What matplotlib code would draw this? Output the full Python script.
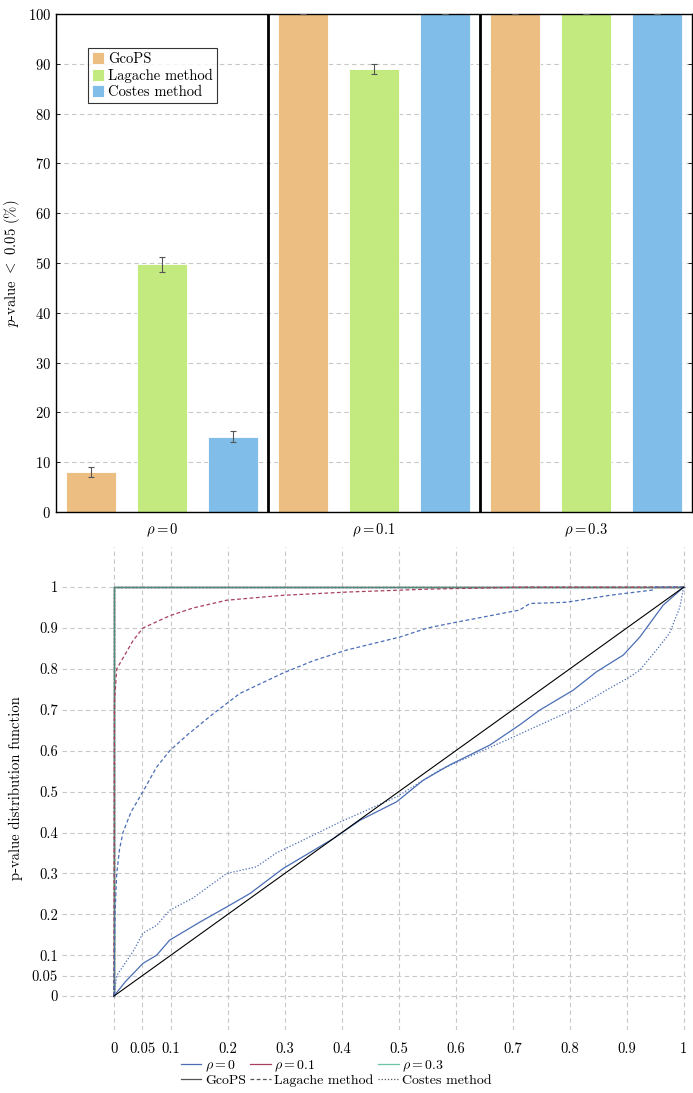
import numpy as np
import matplotlib

matplotlib.use("Agg")
import matplotlib.pyplot as plt
from matplotlib.lines import Line2D

plt.rcParams["font.family"] = ["cmr10", "DejaVu Serif"]
plt.rcParams["mathtext.fontset"] = "cm"
plt.rcParams["axes.formatter.use_mathtext"] = True
plt.rcParams["font.size"] = 10.5

# ---------------- data: top bar chart ----------------
groups = [r"$\rho = 0$", r"$\rho = 0.1$", r"$\rho = 0.3$"]
methods = ["GcoPS", "Lagache method", "Costes method"]
pct_gcops = [8.0, 100.0, 100.0]
pct_lagache = [49.7, 89.0, 100.0]
pct_costes = [15.1, 100.0, 100.0]
err_gcops = [1.0, 0.0, 0.0]
err_lagache = [1.5, 1.0, 0.0]
err_costes = [1.1, 0.0, 0.0]
bar_colors = ["#ecbe82", "#c2ea7f", "#80bee9"]

# ---------------- data: bottom CDF chart ----------------
# rho = 0
lag0_x = [0, 0.002, 0.005, 0.01, 0.016, 0.03, 0.051, 0.075, 0.098, 0.13, 0.174, 0.221,
          0.297, 0.35, 0.408, 0.502, 0.55, 0.60, 0.66, 0.712, 0.73, 0.795, 0.87, 0.946, 0.95, 1.0]
lag0_y = [0, 0.2, 0.3, 0.36, 0.40, 0.45, 0.50, 0.56, 0.60, 0.64, 0.69, 0.74,
          0.79, 0.82, 0.846, 0.878, 0.90, 0.914, 0.93, 0.944, 0.96, 0.963, 0.98, 0.993, 1.0, 1.0]
gco0_x = [0, 0.02, 0.051, 0.075, 0.098, 0.151, 0.198, 0.239, 0.297, 0.385, 0.432, 0.496,
          0.543, 0.589, 0.66, 0.712, 0.747, 0.806, 0.847, 0.894, 0.923, 0.964, 1.0]
gco0_y = [0, 0.035, 0.08, 0.10, 0.137, 0.181, 0.218, 0.251, 0.312, 0.385, 0.430, 0.475,
          0.528, 0.565, 0.614, 0.663, 0.699, 0.748, 0.793, 0.834, 0.878, 0.956, 1.0]
cos0_x = [0, 0.005, 0.034, 0.051, 0.075, 0.098, 0.139, 0.198, 0.25, 0.285, 0.33, 0.396,
          0.496, 0.572, 0.70, 0.806, 0.864, 0.905, 0.923, 0.952, 0.975, 0.993, 1.0]
cos0_y = [0, 0.05, 0.11, 0.154, 0.173, 0.21, 0.24, 0.30, 0.316, 0.35, 0.38, 0.425,
          0.487, 0.553, 0.633, 0.70, 0.748, 0.78, 0.797, 0.846, 0.887, 0.95, 1.0]
# rho = 0.1
lag1_x = [0, 0.001, 0.005, 0.034, 0.051, 0.098, 0.139, 0.198, 0.297, 0.41, 0.55, 0.72, 1.0]
lag1_y = [0, 0.72, 0.80, 0.87, 0.90, 0.93, 0.949, 0.968, 0.98, 0.988, 0.995, 1.0, 1.0]
step_x = [0, 0, 1.0]
step_y = [0, 1.0, 1.0]
# uniform reference
ref_x = [0, 1.0]
ref_y = [0, 1.0]

rho_colors = ["#4a6db5", "#a8405f", "#6cc4a4"]

fig = plt.figure(figsize=(6.93, 10.93), dpi=100)

# ---------------- top: bars ----------------
ax = fig.add_axes([0.0808, 0.5316, 0.9178, 0.4556])
x = np.arange(len(groups))
w = 0.236
off = 0.333
for k, (vals, errs) in enumerate([(pct_gcops, err_gcops), (pct_lagache, err_lagache),
                                  (pct_costes, err_costes)]):
    ax.bar(x + (k - 1) * off, vals, w, color=bar_colors[k], edgecolor="white",
           linewidth=0.6, label=methods[k], zorder=2)
    ax.errorbar(x + (k - 1) * off, vals, yerr=errs, fmt="none", ecolor="#555555",
                elinewidth=0.8, capsize=2.5, capthick=0.8, zorder=3)
for b in [0.5, 1.5]:
    ax.axvline(b, color="black", lw=2, zorder=4)
ax.set_xlim(-0.5, 2.5)
ax.set_ylim(0, 100)
ax.set_yticks(np.arange(0, 101, 10))
ax.set_xticks(x)
ax.set_xticklabels(groups)
ax.tick_params(axis="x", length=0, pad=7)
ax.tick_params(axis="y", direction="in", length=3, right=True, width=0.6)
ax.yaxis.grid(True, ls=(0, (4, 3)), color="#c8c8c8", lw=0.8, zorder=0)
ax.set_axisbelow(True)
for s in ax.spines.values():
    s.set_linewidth(1.0)
ax.set_ylabel(r"$p$-value $<$ 0.05 (%)", labelpad=4)
leg = ax.legend(loc="upper left", bbox_to_anchor=(0.05, 0.932), borderaxespad=0,
                frameon=True, fancybox=False, edgecolor="black", handlelength=0.8,
                handleheight=0.9, handletextpad=0.3, borderpad=0.3, labelspacing=0.15,
                fontsize=10.5)
leg.get_frame().set_linewidth(0.8)

# ---------------- bottom: CDFs ----------------
ax2 = fig.add_axes([0.0895, 0.0576, 0.9004, 0.4419])
# rho = 0.1 / 0.3 where all p-values are ~0
ax2.plot(step_x, step_y, color=rho_colors[1], lw=1.0, ls=":")
ax2.plot(step_x, step_y, color=rho_colors[1], lw=1.0)
ax2.plot(step_x, step_y, color=rho_colors[2], lw=1.0, ls="--")
ax2.plot(step_x, step_y, color=rho_colors[2], lw=1.0, ls=":")
ax2.plot(step_x, step_y, color="#4f8a7e", lw=1.0)
ax2.plot(lag1_x, lag1_y, color=rho_colors[1], lw=0.9, ls=(0, (3, 2)))
ax2.plot(lag0_x, lag0_y, color=rho_colors[0], lw=0.9, ls=(0, (3, 2)))
ax2.plot(gco0_x, gco0_y, color=rho_colors[0], lw=0.9)
ax2.plot(cos0_x, cos0_y, color=rho_colors[0], lw=0.9, ls=(0, (1, 1.5)))
ax2.plot(ref_x, ref_y, color="black", lw=0.8)

ticks = [0, 0.05, 0.1, 0.2, 0.3, 0.4, 0.5, 0.6, 0.7, 0.8, 0.9, 1]
ticklabels = ["0", "0.05", "0.1", "0.2", "0.3", "0.4", "0.5", "0.6", "0.7", "0.8", "0.9", "1"]
ax2.set_xticks(ticks)
ax2.set_xticklabels(ticklabels)
ax2.set_yticks(ticks)
ax2.set_yticklabels(ticklabels)
ax2.set_xlim(-0.091, 1.004)
ax2.set_ylim(-0.083, 1.098)
ax2.grid(True, ls=(0, (4, 3)), color="#c8c8c8", lw=0.8)
ax2.set_axisbelow(True)
for s in ax2.spines.values():
    s.set_visible(False)
ax2.tick_params(axis="x", length=0, pad=9)
ax2.tick_params(axis="y", length=0, pad=3)
ax2.set_ylabel("p-value distribution function", labelpad=6)

handles = [
    Line2D([], [], color=rho_colors[0], lw=0.9),
    Line2D([], [], color="#555555", lw=0.9),
    Line2D([], [], color=rho_colors[1], lw=0.9),
    Line2D([], [], color="#555555", lw=0.9, ls=(0, (3, 2))),
    Line2D([], [], color=rho_colors[2], lw=0.9),
    Line2D([], [], color="#555555", lw=0.9, ls=(0, (1, 1.5))),
]
labels = [r"$\rho = 0$", "GcoPS", r"$\rho = 0.1$", "Lagache method",
          r"$\rho = 0.3$", "Costes method"]
fig.legend(handles, labels, loc="center", bbox_to_anchor=(0.485, 0.0185), ncol=3,
           frameon=False, handlelength=1.5, handletextpad=0.25, columnspacing=0.3,
           labelspacing=0.05, fontsize=10, borderpad=0.1)

fig.savefig("out.png", dpi=100)
